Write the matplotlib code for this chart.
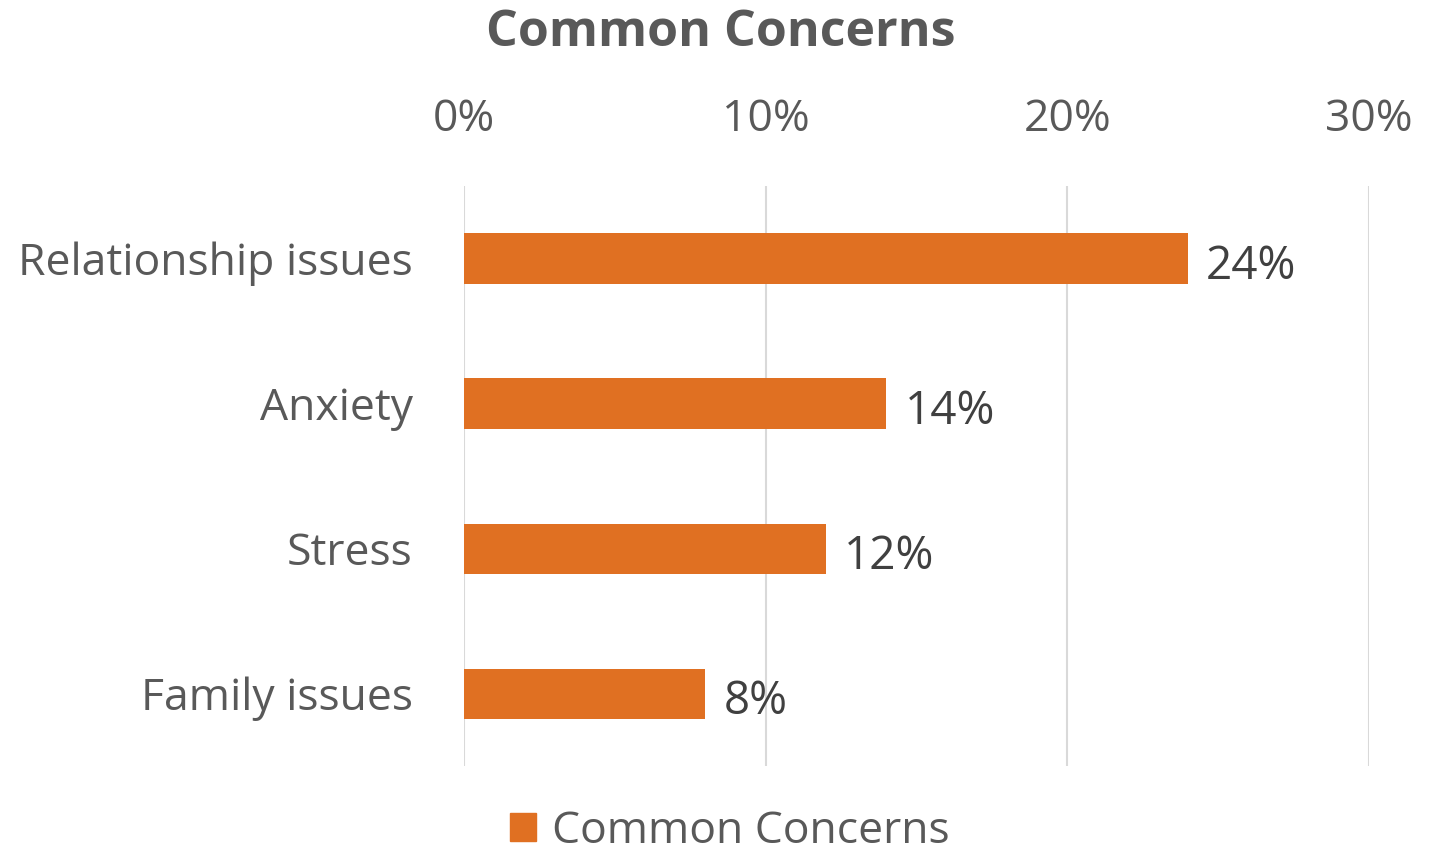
import matplotlib.pyplot as plt
from matplotlib.patches import Patch

plt.rcParams['font.family'] = ['Open Sans', 'DejaVu Sans']

categories = ['Relationship issues', 'Anxiety', 'Stress', 'Family issues']
values = [24, 14, 12, 8]
ticks = [0, 10, 20, 30]
tick_labels = ['0%', '10%', '20%', '30%']

bar_color = '#E07022'
text_color = '#595959'

fig = plt.figure(figsize=(14.42, 8.52), dpi=100)
ax = fig.add_axes([0.3218, 0.1009, 0.9494 - 0.3218, 0.7817 - 0.1009])

pos = list(range(len(categories)))
ax.barh(pos, values, height=0.345, color=bar_color, zorder=3)
for p, v in zip(pos, values):
    ax.text(v + 0.6, p + 0.02, f'{v}%', va='center_baseline', ha='left',
            fontsize=33, color='#404040')

ax.set_xlim(0, 30)
ax.set_ylim(len(categories) - 0.5, -0.5)
ax.set_yticks(pos)
ax.set_yticklabels(categories, fontsize=32, color=text_color)
ax.set_xticks(ticks)
ax.set_xticklabels(tick_labels, fontsize=32, color=text_color)
ax.xaxis.tick_top()
ax.tick_params(axis='both', length=0)
ax.tick_params(axis='y', pad=37)
ax.tick_params(axis='x', pad=32)
ax.grid(axis='x', color='#D9D9D9', linewidth=1.5, zorder=0)
for s in ax.spines.values():
    s.set_visible(False)

fig.text(0.5, 0.961, 'Common Concerns', ha='center', va='center',
         fontsize=36, fontweight='bold', color=text_color)

fig.legend(handles=[Patch(color=bar_color, label='Common Concerns')],
           loc='center', bbox_to_anchor=(0.506, 0.024), frameon=False,
           fontsize=32, labelcolor=text_color, handlelength=0.6,
           handleheight=0.6, handletextpad=0.35)

fig.savefig('out.png', dpi=100)
